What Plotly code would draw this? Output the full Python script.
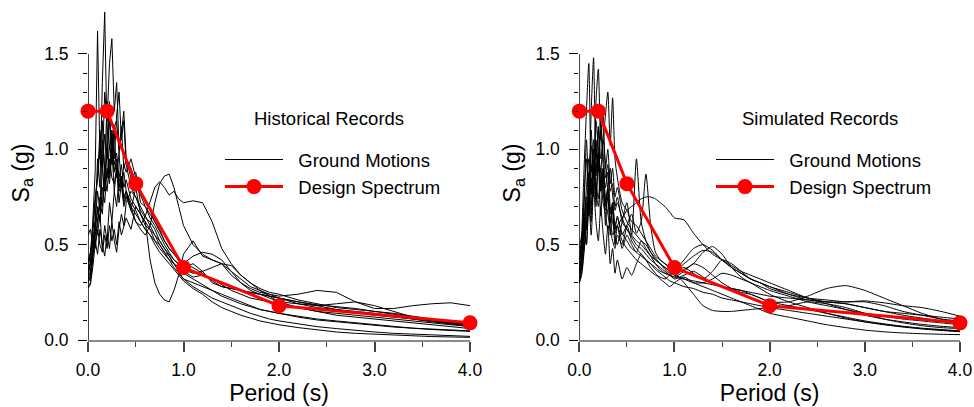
import plotly.graph_objects as go

# ---------------- data ----------------
period = [0, 0.025, 0.05, 0.075, 0.1, 0.125, 0.15, 0.175, 0.2, 0.225, 0.25, 0.275, 0.3, 0.325,
          0.35, 0.375, 0.4, 0.45, 0.5, 0.55, 0.6, 0.65, 0.7, 0.75, 0.8, 0.85, 0.9, 0.95, 1.0,
          1.1, 1.2, 1.3, 1.4, 1.5, 1.6, 1.7, 1.8, 1.9, 2.0, 2.2, 2.4, 2.6, 2.8, 3.0, 3.2, 3.4,
          3.6, 3.8, 4.0]

design_period = [0, 0.2, 0.5, 1.0, 2.0, 4.0]
design_sa = [1.2, 1.2, 0.82, 0.38, 0.18, 0.09]

# Historical records (left panel)
hist_1 = [0.30, 0.34, 0.48, 0.62, 0.95, 0.80, 1.35, 1.72, 1.05, 1.25, 0.92, 1.10, 0.85, 0.98, 0.80, 0.88, 0.78, 0.72, 0.68, 0.62, 0.58, 0.55, 0.52, 0.48, 0.45, 0.42, 0.40, 0.37, 0.35, 0.32, 0.29, 0.26, 0.24, 0.22, 0.20, 0.18, 0.16, 0.15, 0.14, 0.12, 0.105, 0.095, 0.085, 0.075, 0.068, 0.062, 0.057, 0.052, 0.048]
hist_2 = [0.33, 0.40, 0.62, 0.88, 1.62, 0.95, 1.15, 0.82, 1.05, 0.88, 1.00, 0.78, 0.90, 0.72, 0.82, 0.70, 0.75, 0.68, 0.80, 0.66, 0.60, 0.58, 0.52, 0.50, 0.46, 0.44, 0.40, 0.38, 0.36, 0.33, 0.34, 0.32, 0.29, 0.26, 0.24, 0.22, 0.21, 0.20, 0.19, 0.17, 0.15, 0.14, 0.13, 0.12, 0.11, 0.10, 0.09, 0.08, 0.07]
hist_3 = [0.36, 0.45, 0.55, 0.72, 0.85, 1.10, 0.92, 1.30, 1.15, 1.45, 1.58, 1.20, 1.35, 1.00, 1.12, 0.90, 0.95, 0.85, 0.88, 0.72, 0.70, 0.64, 0.60, 0.55, 0.50, 0.46, 0.42, 0.40, 0.38, 0.40, 0.36, 0.30, 0.28, 0.27, 0.26, 0.25, 0.24, 0.23, 0.22, 0.20, 0.185, 0.175, 0.165, 0.15, 0.135, 0.12, 0.105, 0.09, 0.08]
hist_4 = [0.28, 0.30, 0.42, 0.55, 0.70, 0.62, 0.90, 0.78, 1.00, 0.85, 1.10, 0.95, 1.18, 1.30, 1.05, 1.15, 0.92, 0.80, 0.75, 0.70, 0.65, 0.60, 0.55, 0.52, 0.48, 0.45, 0.42, 0.40, 0.37, 0.35, 0.36, 0.38, 0.40, 0.39, 0.34, 0.30, 0.26, 0.23, 0.20, 0.17, 0.15, 0.13, 0.12, 0.11, 0.10, 0.09, 0.08, 0.07, 0.06]
hist_5 = [0.27, 0.29, 0.38, 0.50, 0.62, 0.75, 0.70, 0.92, 0.85, 1.02, 0.95, 1.12, 1.15, 0.98, 1.08, 1.20, 0.95, 0.90, 0.82, 0.76, 0.70, 0.66, 0.62, 0.57, 0.52, 0.48, 0.45, 0.43, 0.40, 0.44, 0.46, 0.45, 0.42, 0.36, 0.30, 0.26, 0.24, 0.23, 0.22, 0.20, 0.18, 0.16, 0.145, 0.13, 0.12, 0.11, 0.10, 0.09, 0.08]
hist_6 = [0.42, 0.45, 0.52, 0.48, 0.58, 0.50, 0.46, 0.55, 0.48, 0.60, 0.52, 0.58, 0.50, 0.62, 0.55, 0.60, 0.64, 0.58, 0.70, 0.66, 0.62, 0.42, 0.30, 0.24, 0.21, 0.20, 0.26, 0.34, 0.45, 0.52, 0.44, 0.42, 0.40, 0.34, 0.30, 0.27, 0.25, 0.24, 0.23, 0.24, 0.26, 0.25, 0.20, 0.165, 0.165, 0.18, 0.19, 0.195, 0.18]
hist_7 = [0.35, 0.40, 0.50, 0.58, 0.68, 0.62, 0.80, 0.72, 0.90, 0.82, 0.98, 0.88, 0.92, 0.80, 0.86, 0.75, 0.78, 0.68, 0.62, 0.58, 0.55, 0.60, 0.72, 0.82, 0.86, 0.87, 0.80, 0.70, 0.60, 0.50, 0.45, 0.42, 0.40, 0.36, 0.32, 0.28, 0.26, 0.24, 0.22, 0.19, 0.17, 0.16, 0.15, 0.14, 0.125, 0.11, 0.095, 0.085, 0.075]
hist_8 = [0.32, 0.36, 0.45, 0.55, 0.60, 0.72, 0.66, 0.85, 0.78, 0.95, 0.85, 0.82, 0.90, 0.78, 0.82, 0.72, 0.76, 0.70, 0.62, 0.60, 0.65, 0.72, 0.80, 0.83, 0.80, 0.76, 0.78, 0.74, 0.72, 0.73, 0.72, 0.62, 0.48, 0.40, 0.34, 0.30, 0.27, 0.25, 0.24, 0.21, 0.19, 0.17, 0.16, 0.15, 0.14, 0.125, 0.11, 0.095, 0.08]
hist_9 = [0.40, 0.46, 0.60, 0.75, 0.85, 1.00, 0.90, 1.08, 0.95, 1.15, 1.00, 0.92, 0.98, 0.85, 0.92, 0.80, 0.84, 0.74, 0.70, 0.66, 0.62, 0.58, 0.55, 0.50, 0.46, 0.42, 0.38, 0.35, 0.32, 0.28, 0.25, 0.22, 0.20, 0.18, 0.16, 0.14, 0.125, 0.11, 0.10, 0.085, 0.07, 0.06, 0.05, 0.042, 0.035, 0.03, 0.026, 0.022, 0.019]
hist_10 = [0.30, 0.33, 0.45, 0.60, 0.78, 0.68, 1.05, 0.90, 1.25, 1.00, 1.10, 0.88, 0.95, 0.80, 0.86, 0.74, 0.78, 0.70, 0.66, 0.62, 0.58, 0.55, 0.50, 0.46, 0.43, 0.40, 0.37, 0.34, 0.31, 0.27, 0.24, 0.20, 0.17, 0.15, 0.13, 0.115, 0.10, 0.09, 0.08, 0.065, 0.052, 0.042, 0.035, 0.03, 0.025, 0.021, 0.018, 0.016, 0.014]
hist_11 = [0.55, 0.58, 0.50, 0.62, 0.55, 0.66, 0.48, 0.60, 0.52, 0.72, 0.62, 0.78, 0.70, 0.85, 0.80, 0.92, 0.88, 0.95, 0.85, 0.78, 0.72, 0.68, 0.62, 0.58, 0.52, 0.48, 0.45, 0.42, 0.40, 0.38, 0.35, 0.31, 0.28, 0.27, 0.26, 0.25, 0.24, 0.22, 0.20, 0.19, 0.18, 0.19, 0.20, 0.18, 0.15, 0.12, 0.10, 0.085, 0.07]
hist_12 = [0.38, 0.40, 0.46, 0.52, 0.45, 0.58, 0.50, 0.44, 0.55, 0.48, 0.62, 0.52, 0.46, 0.58, 0.66, 0.60, 0.72, 0.78, 0.75, 0.68, 0.64, 0.62, 0.58, 0.52, 0.48, 0.44, 0.40, 0.36, 0.32, 0.30, 0.28, 0.26, 0.23, 0.21, 0.19, 0.175, 0.16, 0.15, 0.14, 0.125, 0.11, 0.10, 0.09, 0.08, 0.07, 0.062, 0.055, 0.05, 0.045]

# Simulated records (right panel)
sim_1 = [0.30, 0.45, 0.70, 1.05, 0.80, 1.20, 1.48, 0.95, 1.10, 0.78, 0.90, 0.70, 0.80, 0.62, 0.72, 0.58, 0.65, 0.55, 0.60, 0.52, 0.48, 0.45, 0.42, 0.40, 0.37, 0.35, 0.33, 0.31, 0.30, 0.28, 0.27, 0.25, 0.24, 0.22, 0.21, 0.20, 0.19, 0.18, 0.17, 0.155, 0.14, 0.125, 0.11, 0.095, 0.082, 0.07, 0.06, 0.052, 0.045]
sim_2 = [0.35, 0.55, 0.90, 1.20, 1.45, 0.88, 1.05, 0.70, 0.92, 0.65, 0.85, 0.60, 0.78, 0.55, 0.70, 0.50, 0.60, 0.48, 0.55, 0.50, 0.46, 0.52, 0.48, 0.44, 0.40, 0.37, 0.35, 0.34, 0.33, 0.36, 0.40, 0.38, 0.34, 0.30, 0.27, 0.25, 0.24, 0.22, 0.20, 0.18, 0.16, 0.14, 0.12, 0.10, 0.085, 0.072, 0.062, 0.055, 0.048]
sim_3 = [0.40, 0.50, 0.75, 0.95, 0.72, 1.10, 0.85, 1.25, 1.42, 1.05, 1.18, 0.90, 1.00, 0.82, 0.90, 0.75, 0.80, 0.68, 0.62, 0.58, 0.55, 0.52, 0.50, 0.46, 0.43, 0.40, 0.38, 0.36, 0.34, 0.37, 0.40, 0.46, 0.49, 0.45, 0.38, 0.33, 0.30, 0.28, 0.26, 0.23, 0.20, 0.18, 0.16, 0.14, 0.125, 0.11, 0.10, 0.09, 0.08]
sim_4 = [0.45, 0.52, 0.62, 0.80, 0.95, 0.78, 1.00, 0.88, 1.12, 0.95, 1.05, 1.18, 1.30, 1.02, 1.27, 0.95, 0.85, 0.72, 0.68, 0.62, 0.60, 0.56, 0.52, 0.48, 0.44, 0.42, 0.40, 0.38, 0.36, 0.40, 0.44, 0.47, 0.46, 0.42, 0.38, 0.35, 0.32, 0.30, 0.28, 0.24, 0.21, 0.20, 0.19, 0.17, 0.15, 0.13, 0.115, 0.10, 0.09]
sim_5 = [0.32, 0.40, 0.55, 0.72, 0.65, 0.85, 0.75, 1.00, 0.88, 1.10, 0.92, 0.80, 0.88, 0.70, 0.62, 0.55, 0.50, 0.62, 0.72, 0.55, 0.95, 0.62, 0.52, 0.46, 0.42, 0.40, 0.38, 0.36, 0.34, 0.32, 0.30, 0.30, 0.32, 0.35, 0.34, 0.32, 0.30, 0.27, 0.24, 0.20, 0.17, 0.14, 0.115, 0.095, 0.08, 0.068, 0.058, 0.05, 0.044]
sim_6 = [0.38, 0.42, 0.58, 0.50, 0.72, 0.62, 0.88, 0.76, 0.98, 0.82, 0.90, 0.74, 0.66, 0.58, 0.52, 0.48, 0.55, 0.50, 0.60, 0.66, 0.56, 0.62, 0.87, 0.60, 0.46, 0.42, 0.40, 0.38, 0.36, 0.38, 0.35, 0.32, 0.36, 0.42, 0.40, 0.36, 0.32, 0.30, 0.27, 0.24, 0.22, 0.21, 0.20, 0.20, 0.18, 0.15, 0.13, 0.11, 0.10]
sim_7 = [0.30, 0.36, 0.48, 0.62, 0.78, 0.66, 0.90, 0.78, 0.70, 0.82, 0.72, 0.66, 0.58, 0.62, 0.55, 0.58, 0.60, 0.64, 0.68, 0.70, 0.72, 0.74, 0.75, 0.75, 0.74, 0.72, 0.70, 0.67, 0.64, 0.63, 0.56, 0.50, 0.45, 0.42, 0.39, 0.36, 0.34, 0.32, 0.30, 0.26, 0.22, 0.20, 0.19, 0.17, 0.15, 0.14, 0.13, 0.12, 0.11]
sim_8 = [0.42, 0.50, 0.66, 0.58, 0.80, 0.70, 0.95, 0.82, 0.74, 0.90, 0.78, 0.68, 0.75, 0.62, 0.68, 0.56, 0.60, 0.52, 0.48, 0.45, 0.42, 0.40, 0.38, 0.36, 0.34, 0.33, 0.32, 0.34, 0.35, 0.30, 0.24, 0.18, 0.155, 0.15, 0.15, 0.155, 0.16, 0.165, 0.17, 0.18, 0.20, 0.19, 0.17, 0.14, 0.11, 0.09, 0.075, 0.065, 0.06]
sim_9 = [0.36, 0.44, 0.60, 0.75, 0.68, 0.92, 0.80, 1.05, 0.90, 1.15, 0.98, 0.85, 0.92, 0.78, 0.82, 0.70, 0.75, 0.62, 0.58, 0.54, 0.50, 0.48, 0.45, 0.42, 0.40, 0.38, 0.36, 0.34, 0.32, 0.34, 0.36, 0.33, 0.30, 0.28, 0.27, 0.26, 0.24, 0.22, 0.20, 0.20, 0.23, 0.27, 0.285, 0.26, 0.22, 0.18, 0.14, 0.11, 0.09]
sim_10 = [0.33, 0.38, 0.52, 0.68, 0.88, 0.76, 1.00, 0.86, 0.98, 0.80, 0.88, 0.72, 0.80, 0.66, 0.72, 0.60, 0.64, 0.56, 0.52, 0.48, 0.46, 0.44, 0.42, 0.40, 0.38, 0.36, 0.35, 0.34, 0.33, 0.32, 0.31, 0.30, 0.29, 0.28, 0.27, 0.26, 0.25, 0.24, 0.23, 0.22, 0.21, 0.20, 0.20, 0.205, 0.195, 0.18, 0.17, 0.15, 0.125]
sim_11 = [0.48, 0.55, 0.62, 0.50, 0.72, 0.55, 0.80, 0.62, 0.52, 0.70, 0.56, 0.45, 0.60, 0.40, 0.48, 0.35, 0.42, 0.32, 0.38, 0.34, 0.40, 0.45, 0.42, 0.38, 0.35, 0.32, 0.30, 0.28, 0.30, 0.33, 0.30, 0.28, 0.26, 0.24, 0.22, 0.20, 0.18, 0.16, 0.14, 0.12, 0.10, 0.08, 0.065, 0.052, 0.043, 0.037, 0.033, 0.03, 0.028]
sim_12 = [0.30, 0.34, 0.46, 0.60, 0.82, 1.02, 0.85, 1.15, 1.00, 0.88, 1.05, 0.92, 0.80, 0.90, 0.76, 0.68, 0.72, 0.64, 0.58, 0.55, 0.52, 0.50, 0.47, 0.44, 0.42, 0.40, 0.37, 0.35, 0.36, 0.42, 0.48, 0.50, 0.47, 0.42, 0.38, 0.35, 0.32, 0.30, 0.28, 0.25, 0.22, 0.19, 0.16, 0.13, 0.11, 0.095, 0.082, 0.072, 0.065]

hist_records = [hist_1, hist_2, hist_3, hist_4, hist_5, hist_6, hist_7, hist_8, hist_9, hist_10, hist_11, hist_12]
sim_records = [sim_1, sim_2, sim_3, sim_4, sim_5, sim_6, sim_7, sim_8, sim_9, sim_10, sim_11, sim_12]

x_ticks = [0, 1, 2, 3, 4]
x_ticktext = ["0.0", "1.0", "2.0", "3.0", "4.0"]
x_minor = [0.5, 1.5, 2.5, 3.5]
y_ticks = [0, 0.5, 1.0, 1.5]
y_ticktext = ["0.0", "0.5", "1.0", "1.5"]
y_minor = [0.1, 0.2, 0.3, 0.4, 0.6, 0.7, 0.8, 0.9, 1.1, 1.2, 1.3, 1.4]

panel_titles = ["Historical Records", "Simulated Records"]
gm_name = "Ground Motions"
ds_name = "Design Spectrum"

# ---------------- figure ----------------
FONT = "Arial, Liberation Sans, Helvetica, sans-serif"
W, H = 974, 407
PLOT_L, PLOT_R, PLOT_T, PLOT_B = 88, 960, 6, 340    # page pixels of the plotting frame
ML = PLOT_L
MR = W - PLOT_R
MT = PLOT_T
MB = H - PLOT_B
PW = W - ML - MR
PH = H - MT - MB
PX_PER_G = 190.7


def paper_x(page_px):
    return (page_px - PLOT_L) / PW


def paper_y(page_px):
    return (PLOT_B - page_px) / PH


fig = go.Figure()

panels = [
    dict(records=hist_records, xa="x", ya="y", legend="legend", shape="linear"),
    dict(records=sim_records, xa="x2", ya="y2", legend="legend2", shape="spline"),
]

for p in panels:
    for i, rec in enumerate(p["records"]):
        fig.add_trace(go.Scatter(
            x=period, y=rec, mode="lines", xaxis=p["xa"], yaxis=p["ya"],
            line=dict(color="black", width=1, shape=p["shape"], smoothing=0.6),
            name="\u00a0\u00a0" + gm_name, legendgroup="gm" + p["legend"],
            legend=p["legend"], showlegend=(i == 0), hoverinfo="skip",
        ))
    fig.add_trace(go.Scatter(
        x=design_period, y=design_sa, mode="lines+markers", xaxis=p["xa"], yaxis=p["ya"],
        line=dict(color="#ff0000", width=3), marker=dict(color="#ff0000", size=15),
        name="\u00a0\u00a0" + ds_name, legend=p["legend"], cliponaxis=False,
    ))

dom1 = [0, paper_x(470)]
dom2 = [paper_x(579.3), 1]


def xaxis(domain, anchor):
    return dict(domain=domain, anchor=anchor, range=[0, 4], tickmode="array",
                tickvals=x_ticks, ticktext=x_ticktext, ticks="outside", ticklen=10,
                tickwidth=1.5, tickcolor="#444", showline=True, linecolor="#8a8a8a",
                linewidth=2, showgrid=False, zeroline=False, ticklabelstandoff=3,
                automargin=False,
                tickfont=dict(size=17.5, color="black", family=FONT),
                minor=dict(tickmode="array", tickvals=x_minor, ticks="outside",
                           ticklen=5, tickwidth=1.2, tickcolor="#444", showgrid=False),
                title=dict(text="Period (s)", font=dict(size=23, color="black", family=FONT),
                           standoff=0))


def yaxis(anchor):
    return dict(domain=[0, 1], anchor=anchor, range=[0, PH / PX_PER_G], tickmode="array",
                tickvals=y_ticks, ticktext=y_ticktext, ticks="outside", ticklen=9,
                tickwidth=1.2, tickcolor="black", showline=False, showgrid=False,
                zeroline=False, automargin=False, ticklabelstandoff=6,
                tickfont=dict(size=17.5, color="black", family=FONT),
                minor=dict(tickmode="array", tickvals=y_minor, ticks="outside",
                           ticklen=4, tickwidth=1, tickcolor="black", showgrid=False),
                title=dict(text="S<sub>a</sub> (g)", font=dict(size=23, color="black", family=FONT),
                           standoff=8))


legend_common = dict(xanchor="left", yanchor="top", bgcolor="rgba(0,0,0,0)", itemwidth=58,
                     tracegroupgap=0, font=dict(size=18.5, color="black", family=FONT))

fig.update_layout(
    width=W, height=H, margin=dict(l=ML, r=MR, t=MT, b=MB, autoexpand=False),
    paper_bgcolor="white", plot_bgcolor="white",
    font=dict(family=FONT, color="black"),
    xaxis=xaxis(dom1, "y"), yaxis=yaxis("x"),
    xaxis2=xaxis(dom2, "y2"), yaxis2=yaxis("x2"),
    legend=dict(x=paper_x(220), y=paper_y(141), **legend_common),
    legend2=dict(x=paper_x(711), y=paper_y(141), **legend_common),
    showlegend=True,
)

# y-axis lines drawn only up to 1.5
for xa, ya in [("x", "y"), ("x2", "y2")]:
    fig.add_shape(type="line", xref=xa, yref=ya, x0=0, x1=0, y0=0, y1=1.5,
                  line=dict(color="black", width=1.5), layer="below")

for txt, px in zip(panel_titles, [329, 820]):
    fig.add_annotation(text=txt, xref="paper", yref="paper", x=paper_x(px),
                       y=paper_y(118), xanchor="center", yanchor="middle",
                       showarrow=False, font=dict(size=18.5, color="black", family=FONT))

# remove the default page margin so the figure fills the window exactly
fig.write_html("out.html", config={"displayModeBar": False},
               post_script="document.body.style.margin='0px';")
